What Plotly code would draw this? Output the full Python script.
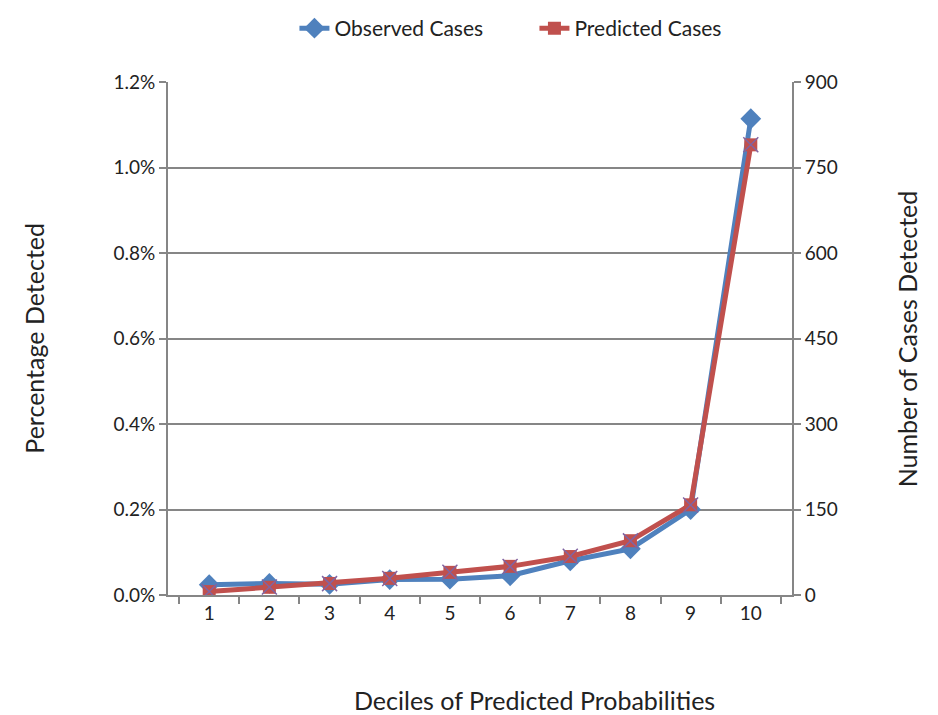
import plotly.graph_objects as go

# data
deciles = ["1", "2", "3", "4", "5", "6", "7", "8", "9", "10"]
observed_pct = [0.024, 0.027, 0.025, 0.036, 0.037, 0.045, 0.080, 0.108, 0.200, 1.114]
predicted_pct = [0.008, 0.018, 0.027, 0.039, 0.053, 0.067, 0.090, 0.127, 0.211, 1.053]
predicted_n = [6, 14, 20, 29, 40, 50, 68, 95, 158, 790]

BLUE = "#4F81BD"
RED = "#C0504D"
PURPLE = "#8064A2"
AXIS = "#868686"
FONT = "Lato, 'Open Sans', sans-serif"

fig = go.Figure()

fig.add_trace(go.Scatter(
    x=deciles, y=[v / 100 for v in observed_pct], name="Observed Cases",
    mode="lines+markers", line=dict(color=BLUE, width=5),
    marker=dict(symbol="diamond", size=16, color=BLUE)
))
fig.add_trace(go.Scatter(
    x=deciles, y=[v / 100 for v in predicted_pct], name="Predicted Cases",
    mode="lines+markers", line=dict(color=RED, width=5),
    marker=dict(symbol="square", size=13, color=RED)
))
# count of predicted cases on the right axis (x markers only)
fig.add_trace(go.Scatter(
    x=deciles, y=predicted_n, yaxis="y2", showlegend=False,
    mode="markers",
    marker=dict(symbol="x-thin", size=15, line=dict(color=PURPLE, width=1.5))
))

# page body adds an 8px offset, so the figure is drawn slightly smaller
fig.update_layout(
    width=930, height=707,
    paper_bgcolor="white", plot_bgcolor="white",
    font=dict(family=FONT, size=19, color="#222"),
    margin=dict(l=160, r=146, t=74, b=120, autoexpand=False),
    showlegend=True,
    legend=dict(orientation="h", x=0.308, xref="container", xanchor="left",
                y=1.0, yref="container", yanchor="top",
                entrywidth=195, entrywidthmode="pixels",
                font=dict(size=21), traceorder="normal"),
    xaxis=dict(
        type="category", tickson="boundaries", ticks="outside", ticklen=7,
        tickcolor=AXIS, tickwidth=2, showline=True, linecolor=AXIS, linewidth=2,
        showgrid=False, tickfont=dict(size=19), automargin=False
    ),
    yaxis=dict(
        range=[0, 0.012], dtick=0.002, tickformat=".1%",
        showgrid=True, gridcolor=AXIS, gridwidth=2, zeroline=False,
        showline=True, linecolor=AXIS, linewidth=2,
        ticks="outside", ticklen=7, tickcolor=AXIS, tickwidth=2,
        tickfont=dict(size=19), automargin=False
    ),
    yaxis2=dict(
        overlaying="y", side="right", range=[0, 900], dtick=150,
        showgrid=False, zeroline=False, showline=True, linecolor=AXIS, linewidth=2,
        ticks="outside", ticklen=7, tickcolor=AXIS, tickwidth=2,
        tickfont=dict(size=19), automargin=False
    ),
    annotations=[
        dict(text="Percentage Detected", xref="paper", yref="paper",
             x=-0.216, y=0.5, textangle=-90, showarrow=False,
             font=dict(size=25), xanchor="center", yanchor="middle"),
        dict(text="Number of Cases Detected", xref="paper", yref="paper",
             x=1.184, y=0.5, textangle=-90, showarrow=False,
             font=dict(size=25), xanchor="center", yanchor="middle"),
        dict(text="Deciles of Predicted Probabilities", xref="paper", yref="paper",
             x=0.587, y=-0.205, showarrow=False,
             font=dict(size=25), xanchor="center", yanchor="middle"),
    ],
)

fig.write_html("out.html")
